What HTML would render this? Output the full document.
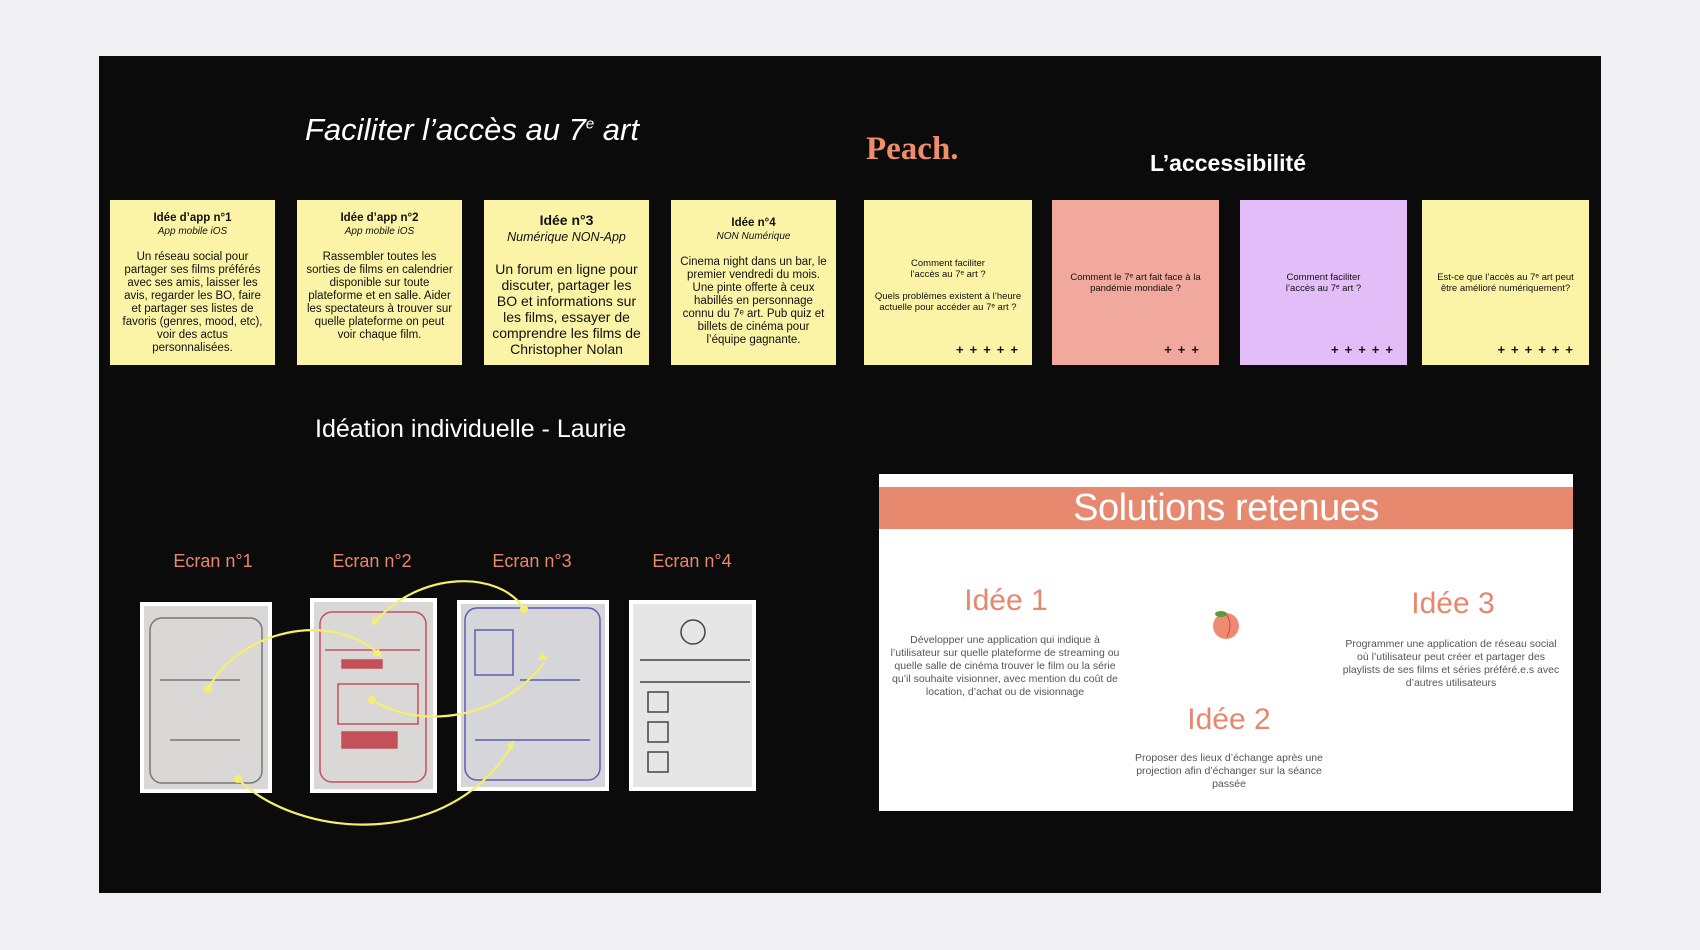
<!DOCTYPE html>
<html><head><meta charset="utf-8"><style>
*{margin:0;padding:0;box-sizing:border-box}
body{width:1700px;height:950px;background:#f0f0f2;position:relative;overflow:hidden;font-family:"Liberation Sans",sans-serif}
#p{position:absolute;left:99px;top:56px;width:1502px;height:837px;background:#0b0b0b}
.a{position:absolute}
.card{position:absolute;top:200px;height:165px;background:#fbf3a6;color:#111;text-align:center;font-size:11.5px;line-height:13px;padding:12px 9px 0}
.card b{font-size:11.5px}
.card i{font-size:10px}
.q{font-size:9.5px;line-height:11px}
.plus{position:absolute;bottom:10px;right:12px;font-weight:bold;font-size:13px;letter-spacing:6px}
.ec{position:absolute;top:551px;color:#e8866e;font-size:18px;width:160px;text-align:center}
.img{position:absolute;background:#fff;padding:4px}
.img div{width:100%;height:100%;background:#d9d8d6}
.it{position:absolute;color:#e8866e;font-size:30px;font-weight:300;text-align:center;width:300px}
.tx{position:absolute;color:#555;font-size:10.5px;line-height:13px;text-align:center;width:230px}
</style></head><body>
<div id="p"></div>
<div class="a" style="left:305px;top:112px;color:#fff;font-size:31px;font-style:italic;font-weight:300">Faciliter l’accès au 7<sup style="font-size:15px">e</sup> art</div>
<div class="a" style="left:866px;top:131px;color:#ef8c6c;font-size:33px;font-weight:bold;font-family:'Liberation Serif',serif">Peach.</div>
<div class="a" style="left:1150px;top:150px;color:#fff;font-size:23px;font-weight:bold">L’accessibilité</div>

<div class="card" style="left:110px;width:165px"><b>Idée d’app n°1</b><br><i>App mobile iOS</i><br><br>Un réseau social pour partager ses films préférés avec ses amis, laisser les avis, regarder les BO, faire et partager ses listes de favoris (genres, mood, etc), voir des actus personnalisées.</div>
<div class="card" style="left:297px;width:165px"><b>Idée d’app n°2</b><br><i>App mobile iOS</i><br><br>Rassembler toutes les sorties de films en calendrier disponible sur toute plateforme et en salle. Aider les spectateurs à trouver sur quelle plateforme on peut voir chaque film.</div>
<div class="card" style="left:484px;width:165px;font-size:14px;line-height:16px;padding:12px 8px 0"><b style="font-size:14px">Idée n°3</b><br><i style="font-size:12.5px">Numérique NON-App</i><br><br>Un forum en ligne pour discuter, partager les BO et informations sur les films, essayer de comprendre les films de Christopher Nolan</div>
<div class="card" style="left:671px;width:165px;padding-top:17px"><b>Idée n°4</b><br><i>NON Numérique</i><br><br>Cinema night dans un bar, le premier vendredi du mois. Une pinte offerte à ceux habillés en personnage connu du 7ᵉ art. Pub quiz et billets de cinéma pour l’équipe gagnante.</div>
<div class="card q" style="left:864px;width:168px;padding-top:58px">Comment faciliter<br>l’accès au 7ᵉ art ?<br><br>Quels problèmes existent à l’heure actuelle pour accéder au 7ᵉ art ?<span class="plus" style="right:8px">+++++</span></div>
<div class="card q" style="left:1052px;width:167px;background:#f2a99d;padding-top:72px">Comment le 7ᵉ art fait face à la pandémie mondiale ?<span class="plus" style="right:14px">+++</span></div>
<div class="card q" style="left:1240px;width:167px;background:#e3bdf8;padding-top:72px">Comment faciliter<br>l’accès au 7ᵉ art ?<span class="plus" style="right:8px">+++++</span></div>
<div class="card q" style="left:1422px;width:167px;padding-top:72px">Est-ce que l’accès au 7ᵉ art peut être amélioré numériquement?<span class="plus" style="right:10px">++++++</span></div>

<div class="a" style="left:315px;top:415px;color:#fff;font-size:25px">Idéation individuelle - Laurie</div>
<div class="ec" style="left:133px">Ecran n°1</div>
<div class="ec" style="left:292px">Ecran n°2</div>
<div class="ec" style="left:452px">Ecran n°3</div>
<div class="ec" style="left:612px">Ecran n°4</div>

<div class="img" style="left:140px;top:602px;width:132px;height:191px"><div></div></div>
<div class="img" style="left:310px;top:598px;width:127px;height:195px"><div></div></div>
<div class="img" style="left:457px;top:600px;width:152px;height:191px"><div style="background:#d6d6da"></div></div>
<div class="img" style="left:629px;top:600px;width:127px;height:191px"><div style="background:#e6e6e6"></div></div>
<svg class="a" style="left:0;top:0" width="1700" height="950" fill="none" stroke-width="1.5">
<g stroke="#777"><rect x="150" y="618" width="112" height="165" rx="12"/><line x1="160" y1="680" x2="240" y2="680"/><line x1="170" y1="740" x2="240" y2="740"/></g>
<g stroke="#c4505a"><rect x="320" y="612" width="106" height="170" rx="12"/><line x1="325" y1="650" x2="420" y2="650"/><rect x="342" y="660" width="40" height="8" fill="#c4505a"/><rect x="338" y="684" width="80" height="40"/><rect x="342" y="732" width="55" height="16" fill="#c4505a"/></g>
<g stroke="#5a5fb0"><rect x="465" y="608" width="135" height="172" rx="12"/><rect x="475" y="630" width="38" height="45"/><line x1="520" y1="680" x2="580" y2="680"/><line x1="475" y1="740" x2="590" y2="740"/></g>
<g stroke="#444"><circle cx="693" cy="632" r="12"/><line x1="640" y1="660" x2="750" y2="660"/><line x1="640" y1="682" x2="750" y2="682"/><rect x="648" y="692" width="20" height="20"/><rect x="648" y="722" width="20" height="20"/><rect x="648" y="752" width="20" height="20"/></g>
<g stroke="#f4ef6c" stroke-width="2.2" fill="none">
<path d="M208 689 C240 630 330 610 379 654"/>
<path d="M524 609 C500 570 420 570 375 622"/>
<path d="M372 700 C420 730 500 720 544 663"/>
<path d="M238 779 C300 840 450 850 512 745"/>
</g>
<g fill="#f4ef6c"><circle cx="208" cy="689" r="4"/><circle cx="524" cy="609" r="4"/><circle cx="372" cy="700" r="4"/><circle cx="238" cy="779" r="4"/>
<path d="M383 657 l-10 -2 l5 -7z"/><path d="M372 626 l1 -10 l7 5z"/><path d="M548 659 l-10 1 l4 -8z"/><path d="M514 740 l-1 10 l-7 -4z"/></g>
</svg>

<div class="a" style="left:879px;top:474px;width:694px;height:337px;background:#fff">
<div style="position:absolute;left:0;top:13px;width:694px;height:42px;background:#e6896f;color:#fff;font-size:38px;text-align:center;line-height:42px;font-weight:normal;letter-spacing:-0.5px">Solutions retenues</div>
</div>
<div class="it" style="left:856px;top:584px">Idée 1</div>
<div class="it" style="left:1303px;top:587px">Idée 3</div>
<div class="it" style="left:1079px;top:703px">Idée 2</div>
<svg class="a" style="left:1211px;top:608px" width="30" height="32"><ellipse cx="15" cy="18" rx="13" ry="13" fill="#ef8a72"/><path d="M16 7 q6 10 0 22" stroke="#c44" fill="none"/><ellipse cx="10" cy="6" rx="6" ry="3" fill="#5a9a3a"/></svg>
<div class="tx" style="left:888px;top:634px;width:234px">Développer une application qui indique à l’utilisateur sur quelle plateforme de streaming ou quelle salle de cinéma trouver le film ou la série qu’il souhaite visionner, avec mention du coût de location, d’achat ou de visionnage</div>
<div class="tx" style="left:1340px;top:638px;width:222px">Programmer une application de réseau social où l’utilisateur peut créer et partager des playlists de ses films et séries préféré.e.s avec d’autres utilisateurs</div>
<div class="tx" style="left:1124px;top:752px;width:210px">Proposer des lieux d’échange après une projection afin d’échanger sur la séance passée</div>
</body></html>
